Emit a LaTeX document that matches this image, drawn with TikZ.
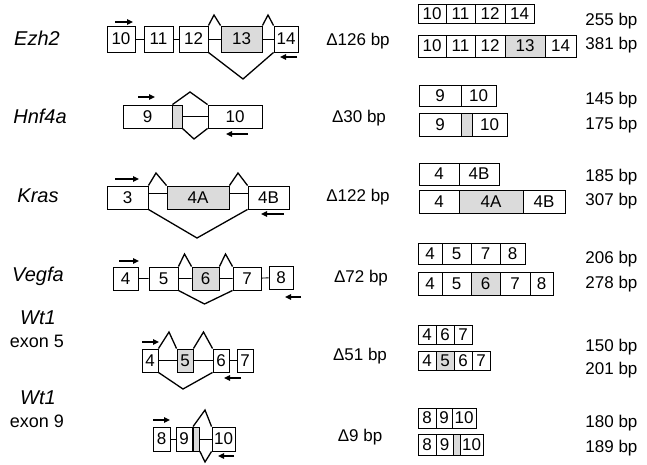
\documentclass[tikz,border=0pt]{standalone}
\usepackage{fontspec}
\setmainfont{Liberation Sans}
\usetikzlibrary{arrows.meta}
\definecolor{altgray}{gray}{0.86}
% fill, name, x1, y1, x2, y2, text
\newcommand{\exon}[7][white]{%
  \node[exbox,fill=#1,minimum width={(#5-#3)*1pt},minimum height={(#6-#4)*1pt}]
    (#2) at ({(#3+#5)/2},{(#4+#6)/2}) {#7};}

\begin{document}
\begin{tikzpicture}[x=1pt,y=-1pt,
  exbox/.style={draw,line width=0.9pt,inner sep=0pt,font=\fontsize{17}{17}\selectfont},
  intron/.style={line width=0.9pt},
  splice/.style={line width=1.3pt,line join=miter},
  primer/.style={line width=1.4pt,-{Triangle[length=6pt,width=5.5pt]}},
  gene/.style={font=\fontsize{20}{22}\selectfont\itshape},
  lbl/.style={font=\fontsize{17}{20}\selectfont}]
  \useasboundingbox (0,0) rectangle (647,464);

  % gene names
  \node[gene] (nEzh) at (37,38) {Ezh2};
  \node[gene] (nHnf) at (40,116) {Hnf4a};
  \node[gene] (nKras) at (38,196) {Kras};
  \node[gene] (nVeg) at (38,276) {Vegfa};
  \node[gene] (nWtA) at (38,318) {Wt1};
  \node[lbl,font=\fontsize{18}{20}\selectfont] (nWtAx) at (37,341) {exon 5};
  \node[gene] (nWtB) at (38,398) {Wt1};
  \node[lbl,font=\fontsize{18}{20}\selectfont] (nWtBx) at (37,421) {exon 9};

  % Ezh2
  \exon{ez10}{107}{26}{135}{52}{10}
  \exon{ez11}{144}{26}{173}{52}{11}
  \exon{ez12}{179}{26}{208}{52}{12}
  \exon[altgray]{ez13}{221}{26}{262}{52}{13}
  \exon{ez14}{274}{26}{298}{52}{14}
  \draw[intron] (ez10) -- (ez11) (ez11) -- (ez12) (ez12) -- (ez13) (ez13) -- (ez14);
  \coordinate (ezPa) at (214,15);
  \coordinate (ezPb) at (268,15);
  \coordinate (ezV) at (243,79);
  \draw[splice] (ez12.north east) -- (ezPa) -- (ez13.north west);
  \draw[splice] (ez13.north east) -- (ezPb) -- (ez14.north west);
  \draw[splice] (ez12.south east) -- (ezV) -- (ez14.south west);
  \coordinate (ezF1) at (115,22); \coordinate (ezF2) at (133,22);
  \coordinate (ezR1) at (297,57); \coordinate (ezR2) at (280,57);
  \draw[primer] (ezF1) -- (ezF2);
  \draw[primer] (ezR1) -- (ezR2);

  % Hnf4a
  \exon{hn9}{123}{105}{172}{128}{9}
  \exon[altgray]{hnA}{172}{105}{182}{128}{}
  \exon{hn10}{208}{105}{262}{128}{10}
  \draw[intron] (hnA) -- (hn10);
  \coordinate (hnP) at (190,92);
  \coordinate (hnV) at (194,139);
  \draw[splice] (hn9.north east) -- (hnP) -- (hn10.north west);
  \draw[splice] (hnA.south east) -- (hnV) -- (hn10.south west);
  \coordinate (hnF1) at (138,97); \coordinate (hnF2) at (155,97);
  \coordinate (hnR1) at (248,134); \coordinate (hnR2) at (226,134);
  \draw[primer] (hnF1) -- (hnF2);
  \draw[primer] (hnR1) -- (hnR2);

  % Kras
  \exon{kr3}{107}{186}{148}{209}{3}
  \exon[altgray]{kr4A}{167}{186}{229}{209}{4A}
  \exon{kr4B}{248}{186}{289}{209}{4B}
  \draw[intron] ([yshift=4pt]kr3.east) -- ([yshift=4pt]kr4A.west)
    ([yshift=4pt]kr4A.east) -- ([yshift=4pt]kr4B.west);
  \coordinate (krPa) at (156,173);
  \coordinate (krPb) at (238,173);
  \coordinate (krV) at (197,238);
  \draw[splice] (kr3.north east) -- (krPa) -- (kr4A.north west);
  \draw[splice] (kr4A.north east) -- (krPb) -- (kr4B.north west);
  \draw[splice] (kr3.south east) -- (krV) -- (kr4B.south west);
  \coordinate (krF1) at (115,179); \coordinate (krF2) at (139,179);
  \coordinate (krR1) at (284,214); \coordinate (krR2) at (261,214);
  \draw[primer] (krF1) -- (krF2);
  \draw[primer] (krR1) -- (krR2);

  % Vegfa
  \exon{ve4}{113}{267}{138}{290}{4}
  \exon{ve5}{149}{267}{178}{290}{5}
  \exon[altgray]{ve6}{192}{267}{219}{290}{6}
  \exon{ve7}{233}{267}{261}{290}{7}
  \exon{ve8}{269}{266}{293}{289}{8}
  \draw[intron] (ve4) -- (ve5) (ve5) -- (ve6) (ve6) -- (ve7) (ve7) -- (ve8);
  \coordinate (vePa) at (184.5,254);
  \coordinate (vePb) at (225.5,254);
  \coordinate (veV) at (204.5,304);
  \draw[splice] (ve5.north east) -- (vePa) -- (ve6.north west);
  \draw[splice] (ve6.north east) -- (vePb) -- (ve7.north west);
  \draw[splice] (ve5.south east) -- (veV) -- (ve7.south west);
  \coordinate (veF1) at (119,261); \coordinate (veF2) at (139,261);
  \coordinate (veR1) at (301,297); \coordinate (veR2) at (285,297);
  \draw[primer] (veF1) -- (veF2);
  \draw[primer] (veR1) -- (veR2);

  % Wt1 exon 5
  \exon{wa4}{142}{349}{158}{372}{4}
  \exon[altgray]{wa5}{177}{349}{193}{372}{5}
  \exon{wa6}{213}{349}{229}{372}{6}
  \exon{wa7}{237}{349}{253}{372}{7}
  \draw[intron] (wa4) -- (wa5) (wa5) -- (wa6) (wa6) -- (wa7);
  \coordinate (waPa) at (169,332);
  \coordinate (waPb) at (203.5,332);
  \coordinate (waV) at (183,389);
  \draw[splice] (wa4.north east) -- (waPa) -- (wa5.north west);
  \draw[splice] (wa5.north east) -- (waPb) -- (wa6.north west);
  \draw[splice] (wa4.south east) -- (waV) -- (wa6.south west);
  \coordinate (waF1) at (142,342); \coordinate (waF2) at (159,342);
  \coordinate (waR1) at (241,378); \coordinate (waR2) at (224,378);
  \draw[primer] (waF1) -- (waF2);
  \draw[primer] (waR1) -- (waR2);

  % Wt1 exon 9
  \exon{wb8}{153}{427}{170}{451}{8}
  \exon{wb9}{176}{427}{192}{451}{9}
  \exon[altgray]{wbA}{193.5}{427}{199.5}{451}{}
  \exon{wb10}{212}{427}{235}{451}{10}
  \draw[intron] (wb8) -- (wb9) (wbA) -- (wb10);
  \coordinate (wbP) at (205,410);
  \coordinate (wbV) at (205,462);
  \draw[splice] (wbA.north west) -- (wbP) -- (wb10.north west);
  \draw[splice] (wbA.south east) -- (wbV) -- (wb10.south west);
  \coordinate (wbF1) at (153,420); \coordinate (wbF2) at (170,420);
  \coordinate (wbR1) at (234,456); \coordinate (wbR2) at (218,456);
  \draw[primer] (wbF1) -- (wbF2);
  \draw[primer] (wbR1) -- (wbR2);

  % deletion sizes
  \node[lbl] (dEzh) at (358,41) {Δ126 bp};
  \node[lbl] (dHnf) at (359,118) {Δ30 bp};
  \node[lbl] (dKras) at (358,197) {Δ122 bp};
  \node[lbl] (dVeg) at (361,278) {Δ72 bp};
  \node[lbl] (dWtA) at (360,356) {Δ51 bp};
  \node[lbl] (dWtB) at (360,437) {Δ9 bp};

  % PCR products
  \foreach \xa/\xb/\t/\c [count=\i] in {418/446/10/white,446/475/11/white,475/505/12/white,505/534/14/white}
    \node[exbox,fill=\c,minimum width={(\xb-\xa)*1pt},minimum height=19pt] (pEzS\i) at ({(\xa+\xb)/2},13.5) {\t};
  \foreach \xa/\xb/\t/\c [count=\i] in {418/446/10/white,446/475/11/white,475/505/12/white,505/545/13/altgray,545/576/14/white}
    \node[exbox,fill=\c,minimum width={(\xb-\xa)*1pt},minimum height=22pt] (pEzL\i) at ({(\xa+\xb)/2},46) {\t};
  \foreach \xa/\xb/\t/\c [count=\i] in {419/461/9/white,461/496/10/white}
    \node[exbox,fill=\c,minimum width={(\xb-\xa)*1pt},minimum height=21pt] (pHnS\i) at ({(\xa+\xb)/2},95.5) {\t};
  \foreach \xa/\xb/\t/\c [count=\i] in {419/461/9/white,461/472/{}/altgray,472/507/10/white}
    \node[exbox,fill=\c,minimum width={(\xb-\xa)*1pt},minimum height=23pt] (pHnL\i) at ({(\xa+\xb)/2},124.5) {\t};
  \foreach \xa/\xb/\t/\c [count=\i] in {419/459/4/white,459/499/4B/white}
    \node[exbox,fill=\c,minimum width={(\xb-\xa)*1pt},minimum height=22pt] (pKrS\i) at ({(\xa+\xb)/2},174) {\t};
  \foreach \xa/\xb/\t/\c [count=\i] in {419/459/4/white,459/523/4A/altgray,523/565/4B/white}
    \node[exbox,fill=\c,minimum width={(\xb-\xa)*1pt},minimum height=23pt] (pKrL\i) at ({(\xa+\xb)/2},201.5) {\t};
  \foreach \xa/\xb/\t/\c [count=\i] in {418/442/4/white,442/471/5/white,471/500/7/white,500/525/8/white}
    \node[exbox,fill=\c,minimum width={(\xb-\xa)*1pt},minimum height=21pt] (pVeS\i) at ({(\xa+\xb)/2},253.5) {\t};
  \foreach \xa/\xb/\t/\c [count=\i] in {418/442/4/white,442/471/5/white,471/500/6/altgray,500/530/7/white,530/553/8/white}
    \node[exbox,fill=\c,minimum width={(\xb-\xa)*1pt},minimum height=23pt] (pVeL\i) at ({(\xa+\xb)/2},283.5) {\t};
  \foreach \xa/\xb/\t/\c [count=\i] in {418/436/4/white,436/454/6/white,454/472/7/white}
    \node[exbox,fill=\c,minimum width={(\xb-\xa)*1pt},minimum height=19pt] (pWaS\i) at ({(\xa+\xb)/2},334.5) {\t};
  \foreach \xa/\xb/\t/\c [count=\i] in {418/436/4/white,436/454/5/altgray,454/472/6/white,472/490/7/white}
    \node[exbox,fill=\c,minimum width={(\xb-\xa)*1pt},minimum height=19pt] (pWaL\i) at ({(\xa+\xb)/2},360.5) {\t};
  \foreach \xa/\xb/\t/\c [count=\i] in {418/436/8/white,436/452/9/white,452/476/10/white}
    \node[exbox,fill=\c,minimum width={(\xb-\xa)*1pt},minimum height=20pt] (pWbS\i) at ({(\xa+\xb)/2},418) {\t};
  \foreach \xa/\xb/\t/\c [count=\i] in {418/436/8/white,436/453/9/white,453/460/{}/altgray,460/483/10/white}
    \node[exbox,fill=\c,minimum width={(\xb-\xa)*1pt},minimum height=21pt] (pWbL\i) at ({(\xa+\xb)/2},444.5) {\t};

  % product sizes
  \node[lbl,anchor=east] (sEzS) at (641,21) {255 bp};
  \node[lbl,anchor=east] (sEzL) at (641,45) {381 bp};
  \node[lbl,anchor=east] (sHnS) at (641,100) {145 bp};
  \node[lbl,anchor=east] (sHnL) at (641,125) {175 bp};
  \node[lbl,anchor=east] (sKrS) at (641,177) {185 bp};
  \node[lbl,anchor=east] (sKrL) at (641,201) {307 bp};
  \node[lbl,anchor=east] (sVeS) at (641,259) {206 bp};
  \node[lbl,anchor=east] (sVeL) at (641,284) {278 bp};
  \node[lbl,anchor=east] (sWaS) at (641,347) {150 bp};
  \node[lbl,anchor=east] (sWaL) at (641,370) {201 bp};
  \node[lbl,anchor=east] (sWbS) at (641,423) {180 bp};
  \node[lbl,anchor=east] (sWbL) at (641,448) {189 bp};
\end{tikzpicture}
\end{document}
